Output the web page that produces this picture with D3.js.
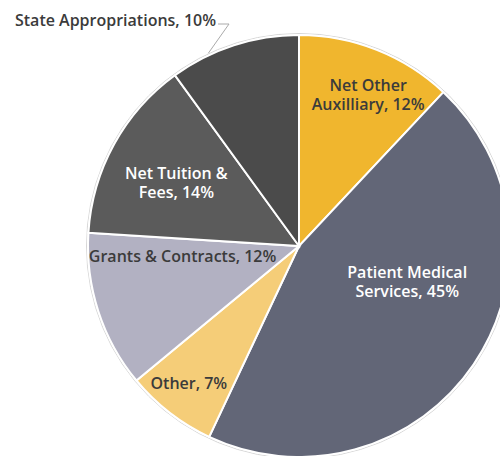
<!DOCTYPE html>
<html>
<head>
<meta charset="utf-8">
<script src="https://cdn.jsdelivr.net/npm/d3@7"></script>
<style>
  body { margin: 0; background: #fff; }
  text { font-family: "Open Sans", sans-serif; font-weight: 600; }
</style>
</head>
<body>
<div id="chart"></div>
<script>
// Revenue shares, clockwise from 12 o'clock
const categories = ["Net Other Auxilliary", "Patient Medical Services", "Other", "Grants & Contracts", "Net Tuition & Fees", "State Appropriations"];
const shares = [12, 45, 7, 12, 14, 10];
const labelLines = [
    ["Net Other", "Auxilliary, 12%"],
    ["Patient Medical", "Services, 45%"],
    ["Other, 7%"],
    ["Grants & Contracts, 12%"],
    ["Net Tuition &", "Fees, 14%"],
    ["State Appropriations, 10%"]
];
const colors = ["#f0b62e", "#626677", "#f5cd78", "#b2b1c2", "#5b5b5b", "#4b4b4b"];
const textColors = ["#3b3b3b", "#ffffff", "#3b3b3b", "#3b3b3b", "#ffffff", "#3b3b3b"];
// nudges from the label arc centroid
const labelNudge = [[21, -29], [0, -38], [-30, 34], [8, -30], [-8, 0], [0, 0]];

const width = 500, height = 456;
const cx = 299, cy = 246, radius = 211;

const svg = d3.select("#chart")
    .append("svg")
    .attr("width", width)
    .attr("height", height);

const g = svg.append("g")
    .attr("transform", `translate(${cx}, ${cy})`);

const pie = d3.pie().sort(null).value(d => d);
const arcs = pie(shares);

const arc = d3.arc().innerRadius(0).outerRadius(radius);
const labelArc = d3.arc().innerRadius(radius * 0.62).outerRadius(radius * 0.62);

// faint outline around the pie
g.append("circle")
    .attr("r", radius + 1.5)
    .attr("fill", "none")
    .attr("stroke", "#d6d6d6")
    .attr("stroke-width", 1);

g.selectAll(".slice")
    .data(arcs)
    .enter()
    .append("path")
    .attr("class", "slice")
    .attr("d", arc)
    .attr("fill", (d, i) => colors[i])
    .attr("stroke", "#fff")
    .attr("stroke-width", 2);

// inside labels
arcs.forEach((d, i) => {
    if (i === 5) return;
    const c = labelArc.centroid(d);
    const x = c[0] + labelNudge[i][0];
    const y = c[1] + labelNudge[i][1];
    const lines = labelLines[i];
    const t = g.append("text")
        .attr("text-anchor", "middle")
        .attr("fill", textColors[i])
        .style("font-size", "16px");
    lines.forEach((line, j) => {
        t.append("tspan")
            .attr("x", x)
            .attr("y", y + 5.5 + (j - (lines.length - 1) / 2) * 19)
            .text(line);
    });
});

// outside label for State Appropriations with leader line
const state = arcs[5];
const edgeAngle = state.startAngle + (state.endAngle - state.startAngle) * 0.3;
const edge = [Math.sin(edgeAngle) * (radius + 2), -Math.cos(edgeAngle) * (radius + 2)];
g.append("polyline")
    .attr("points", [[-81, -222], [-70, -222], edge].map(p => p.join(",")).join(" "))
    .attr("fill", "none")
    .attr("stroke", "#aaaaaa")
    .attr("stroke-width", 1);

g.append("text")
    .attr("x", -83)
    .attr("y", -220)
    .attr("text-anchor", "end")
    .attr("fill", textColors[5])
    .style("font-size", "16px")
    .text(labelLines[5][0]);
</script>
</body>
</html>
